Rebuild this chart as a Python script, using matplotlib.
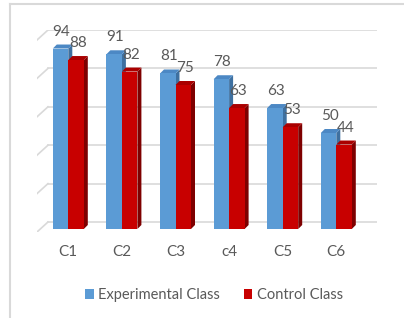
"""Experimental vs control class scores, drawn as Excel-style 3D column chart."""

import matplotlib
matplotlib.use("Agg")
import matplotlib.pyplot as plt
from matplotlib.patches import Patch
from matplotlib.lines import Line2D

categories = ["C1", "C2", "C3", "c4", "C5", "C6"]
experimental = [94, 91, 81, 78, 63, 50]
control = [88, 82, 75, 63, 53, 44]
series_names = ["Experimental Class", "Control Class"]
grid_values = [0, 20, 40, 60, 80, 100]

# pixel geometry of the reference turned into data units
PX_X = 53.6          # px per category step
PX_Y = 1.92          # px per value unit
BAR_W = 15.5 / PX_X
DX = 4 / PX_X        # bar depth
DY = 4 / PX_Y
FRONT_BASE = -7 / PX_Y
WALL_DX = 11 / PX_X  # floor depth
WALL_DY = 10 / PX_Y

BLUE = ("#5B9BD5", "#3E70A0", "#4C88C4")
RED = ("#C80000", "#7E0000", "#AA0000")
TEXT = "#595959"
GRID = "#D9D9D9"

plt.rcParams["font.family"] = ["Lato", "DejaVu Sans"]


def draw_bar(ax, x0, value, colors):
	front_c, side_c, top_c = colors
	x1 = x0 + BAR_W
	y0 = FRONT_BASE
	y1 = FRONT_BASE + value
	ax.fill([x1, x1 + DX, x1 + DX, x1], [y0, y0 + DY, y1 + DY, y1],
			color=side_c, lw=0, zorder=3)
	ax.fill([x0, x1, x1 + DX, x0 + DX], [y1, y1, y1 + DY, y1 + DY],
			color=top_c, lw=0, zorder=3)
	ax.fill([x0, x1, x1, x0], [y0, y0, y1, y1], color=front_c, lw=0, zorder=3)


def main():
	fig = plt.figure(figsize=(4.04, 3.18), dpi=100)
	left_px, right_px, top_px, bottom_px = 37, 377, 30, 232
	ax = fig.add_axes([left_px / 404, 1 - bottom_px / 318,
					   (right_px - left_px) / 404, (bottom_px - top_px) / 318])
	x_left = -(68.3 - left_px) / PX_X
	x_right = (right_px - 68.3) / PX_X
	ax.set_xlim(x_left, x_right)
	ax.set_ylim(-WALL_DY, 100)
	for s in ax.spines.values():
		s.set_visible(False)
	ax.set_yticks([])

	# back wall gridlines and floor/side stubs
	for v in grid_values:
		ax.plot([x_left + WALL_DX, x_right], [v, v], color=GRID, lw=1.2, zorder=1)
		ax.plot([x_left, x_left + WALL_DX], [v - WALL_DY, v], color=GRID, lw=1.2, zorder=1)

	for i, (e, c) in enumerate(zip(experimental, control)):
		draw_bar(ax, i - BAR_W, e, BLUE)
		draw_bar(ax, i, c, RED)
		ax.text(i - BAR_W / 2 + 0.02, e + 5.2, str(e), ha="center", va="center",
				fontsize=11, color=TEXT, zorder=5)
		ax.text(i + BAR_W / 2 + 0.03, c + 5.2, str(c), ha="center", va="center",
				fontsize=11, color=TEXT, zorder=5)

	ax.set_xticks(range(len(categories)))
	ax.set_xticklabels(categories, fontsize=11, color=TEXT)
	ax.tick_params(axis="x", length=0, pad=9)

	handles = [Patch(facecolor=BLUE[0]), Patch(facecolor=RED[0])]
	fig.legend(handles, series_names, loc="center", bbox_to_anchor=(0.53, 0.072),
			   ncol=2, frameon=False, fontsize=10.5, labelcolor=TEXT,
			   handlelength=0.6, handleheight=0.6, handletextpad=0.3,
			   columnspacing=1.6)

	# chart area border (cropped in the reference)
	fig.add_artist(Line2D([10 / 404, 10 / 404], [0, 1 - 4 / 318], color=GRID, lw=1.5))
	fig.add_artist(Line2D([10 / 404, 1], [1 - 4 / 318, 1 - 4 / 318], color=GRID, lw=1.5))

	fig.savefig("out.png", dpi=100)


if __name__ == "__main__":
	main()
